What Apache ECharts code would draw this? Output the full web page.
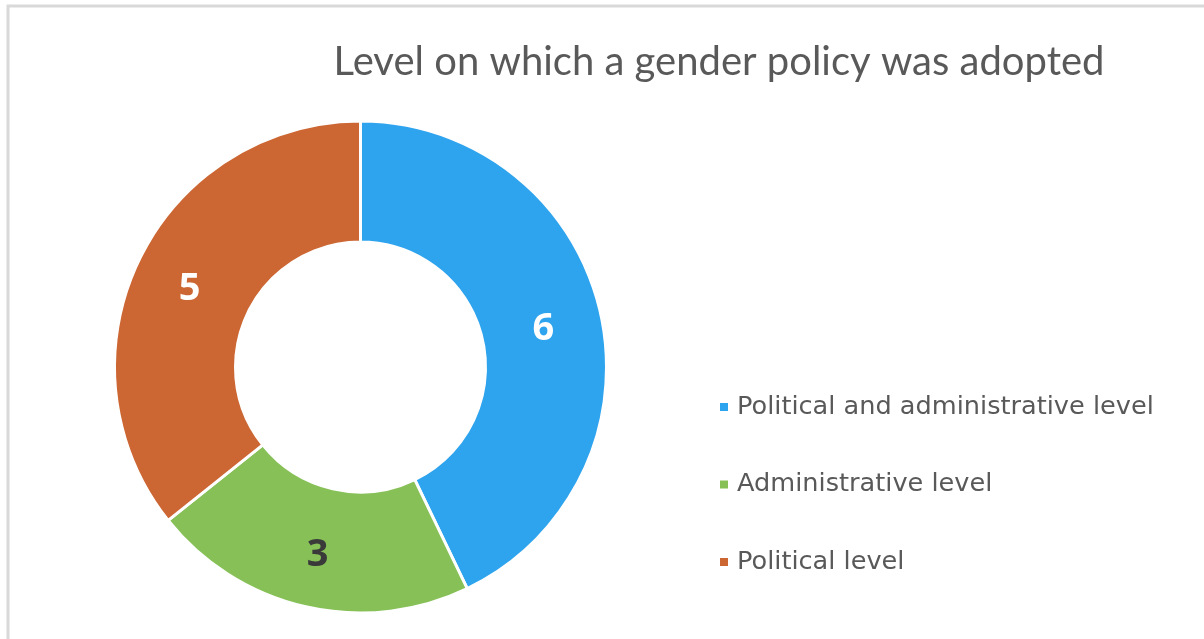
<!DOCTYPE html>
<html>
<head>
<meta charset="utf-8">
<script src="https://cdn.jsdelivr.net/npm/echarts@6/dist/echarts.min.js"></script>
<style>
  html, body { margin: 0; padding: 0; background: #ffffff; }
  #chart { width: 1204px; height: 639px; }
</style>
</head>
<body>
<div id="chart"></div>
<script>
// Policy adoption levels and their counts
const titleText = 'Level on which a gender policy was adopted';
const categories = ['Political and administrative level', 'Administrative level', 'Political level'];
const counts = [6, 3, 5];
const sliceColors = ['#2EA3EE', '#86C057', '#CC6633'];
const labelColors = ['#ffffff', '#3a3a3a', '#ffffff'];

const chart = echarts.init(document.getElementById('chart'), null, { renderer: 'canvas' });

const pieData = categories.map((name, i) => ({
  name: name,
  value: counts[i],
  itemStyle: { color: sliceColors[i] },
  label: { color: labelColors[i] }
}));

chart.setOption({
  backgroundColor: '#ffffff',
  animation: false,
  graphic: [{
    type: 'rect',
    shape: { x: 8, y: 6, width: 1220, height: 660 },
    style: { fill: 'none', stroke: '#d9d9d9', lineWidth: 3 },
    silent: true,
    z: -1
  }],
  title: {
    text: titleText,
    left: 714,
    top: 37,
    textAlign: 'center',
    textStyle: {
      fontFamily: 'Lato',
      fontWeight: 'normal',
      fontSize: 40,
      color: '#595959'
    }
  },
  legend: {
    orient: 'vertical',
    left: 713,
    top: 389,
    icon: 'rect',
    itemWidth: 10,
    itemHeight: 10,
    itemGap: 51.5,
    selectedMode: false,
    textStyle: {
      fontFamily: 'DejaVu Sans',
      fontSize: 25.6,
      color: '#595959',
      padding: [0, 0, 0, 3]
    },
    data: categories
  },
  series: [{
    type: 'pie',
    center: [360.5, 367],
    radius: [125, 246],
    startAngle: 90,
    clockwise: true,
    avoidLabelOverlap: false,
    itemStyle: { borderColor: '#ffffff', borderWidth: 3 },
    label: {
      show: true,
      position: 'inside',
      formatter: '{c}',
      fontFamily: 'Noto Sans',
      fontWeight: 'bold',
      fontSize: 38,
      offset: [-1, 4]
    },
    labelLine: { show: false },
    emphasis: { disabled: true },
    data: pieData
  }]
});
</script>
</body>
</html>
